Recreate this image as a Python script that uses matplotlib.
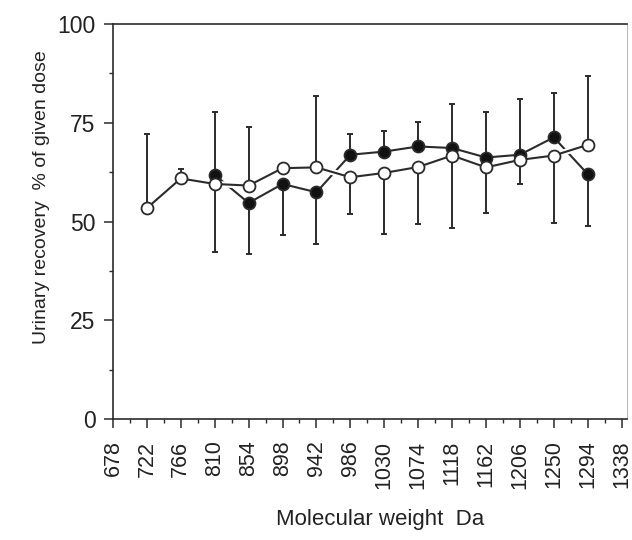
import matplotlib
matplotlib.use("Agg")
import matplotlib.pyplot as plt
import matplotlib.patheffects as pe

# Data
mw_ticks = [678, 722, 766, 810, 854, 898, 942, 986, 1030, 1074, 1118, 1162, 1206, 1250, 1294, 1338]

open_x = [722, 766, 810, 854, 898, 942, 986, 1030, 1074, 1118, 1162, 1206, 1250, 1294]
open_y = [53.4, 60.9, 59.5, 59.1, 63.5, 63.7, 61.2, 62.3, 63.8, 66.7, 63.7, 65.6, 66.7, 69.4]
open_err_lo = [0, 0, 17.3, 0, 0, 0, 9.3, 15.4, 14.4, 18.3, 11.5, 6.2, 17.1, 0]
open_err_hi = [18.8, 2.5, 0, 14.8, 0, 18.1, 0, 0, 0, 0, 0, 0, 0, 17.5]

filled_x = [810, 854, 898, 942, 986, 1030, 1074, 1118, 1162, 1206, 1250, 1294]
filled_y = [61.8, 54.7, 59.5, 57.4, 66.9, 67.7, 69.0, 68.6, 66.2, 66.9, 71.3, 62.0]
filled_err_lo = [0, 12.9, 12.8, 13.1, 0, 0, 0, 0, 0, 0, 0, 13.2]
filled_err_hi = [15.8, 0, 0, 0, 5.3, 5.3, 6.1, 11.2, 11.5, 14.2, 11.2, 0]

y_ticks = [0, 25, 50, 75, 100]

ink = "#2b2b2b"
txt = "#222222"
fam = ["Liberation Sans", "DejaVu Sans"]

fig = plt.figure(figsize=(6.32, 5.40), dpi=100)
ax = fig.add_axes([0.1788, 0.224, 0.8133, 0.7316])

ax.errorbar(filled_x, filled_y, yerr=[filled_err_lo, filled_err_hi], fmt="none",
            ecolor=ink, elinewidth=1.4, capsize=2.5, capthick=1.4, zorder=2)
ax.errorbar(open_x, open_y, yerr=[open_err_lo, open_err_hi], fmt="none",
            ecolor=ink, elinewidth=1.4, capsize=2.5, capthick=1.4, zorder=2)

ax.plot(filled_x, filled_y, "-", color=ink, lw=1.5, zorder=3)
ax.plot(open_x, open_y, "-", color=ink, lw=1.5, zorder=4,
        path_effects=[pe.Stroke(linewidth=4.5, foreground="white"), pe.Normal()])
ax.plot(filled_x, filled_y, "o", ms=8.6, mfc="#111111", mec=ink, mew=1.3, zorder=5)
ax.plot(open_x, open_y, "o", ms=8.6, mfc="white", mec=ink, mew=1.3, zorder=6)

ax.set_xlim(678, 1345)
ax.set_ylim(0, 100)
ax.set_xticks(mw_ticks)
ax.set_xticklabels([str(v) for v in mw_ticks], rotation=90, fontfamily=fam, fontsize=15.5)
ax.set_xticks([v + 22 for v in mw_ticks[:-1]], minor=True)
ax.set_yticks(y_ticks)
ax.set_yticklabels([str(v) for v in y_ticks], fontfamily=fam, fontsize=16.5)
ax.set_yticks([12.5, 37.5, 62.5, 87.5], minor=True)

ax.tick_params(which="major", direction="out", length=6.5, width=1.1, color=ink, labelcolor=txt)
ax.tick_params(axis="x", which="major", pad=9)
ax.tick_params(axis="y", which="major", pad=6)
ax.tick_params(which="minor", direction="out", length=3, width=1.0, color=ink)
for s in ax.spines.values():
    s.set_color(ink)
    s.set_linewidth(1.2)
ax.spines["right"].set_color("#bbbbbb")
ax.spines["right"].set_linewidth(0.8)

ax.set_xlabel("Molecular weight  Da", fontfamily=fam, fontsize=16, color=txt)
ax.xaxis.set_label_coords(0.01 + (375 - 113) / 514, -(525 - 419) / 395)
ax.xaxis.label.set_va("baseline")
ax.set_ylabel("Urinary recovery  % of given dose", fontfamily=fam, fontsize=14, color=txt)
ax.yaxis.set_label_coords(-0.122, (419 - 197) / 395)

fig.savefig("out.png", dpi=100, facecolor="white")
